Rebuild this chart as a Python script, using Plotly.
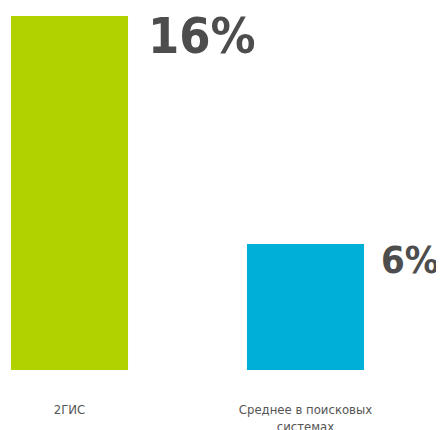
import plotly.graph_objects as go

categories = ["2ГИС", "Среднее в поисковых<br>системах"]
values = [16, 6]
colors = ["#b2d200", "#00afd8"]
label_sizes = [50, 38]
label_yshift = [11, 8]
label_gap = [18, 15]

FONT = "Liberation Sans Narrow, DejaVu Sans Condensed, sans-serif"

fig = go.Figure()
fig.add_trace(go.Bar(
    x=[0, 1], y=values, marker=dict(color=colors, line=dict(width=0)),
    width=0.496, hoverinfo="skip",
))

for i, v in enumerate(values):
    fig.add_annotation(
        x=i, y=v, xref="x", yref="y", text=f"<b>{v}%</b>",
        showarrow=False, xanchor="left", yanchor="top",
        xshift=0.248 * 236 + label_gap[i], yshift=label_yshift[i],
        font=dict(family=FONT, size=label_sizes[i], color="#4d4d4d"),
    )

fig.update_layout(
    width=444, height=430,
    margin=dict(l=0, r=0, t=0, b=68),
    paper_bgcolor="white", plot_bgcolor="white",
    showlegend=False,
    xaxis=dict(range=[-0.2606, 1.6208], tickvals=[0, 1], ticktext=categories,
               showgrid=False, zeroline=False, showline=False, ticks="",
               ticklabelstandoff=30,
               tickfont=dict(family=FONT, size=13, color="#555555")),
    yaxis=dict(range=[0.474, 16.35], visible=False),
)

fig.write_html("out.html")
